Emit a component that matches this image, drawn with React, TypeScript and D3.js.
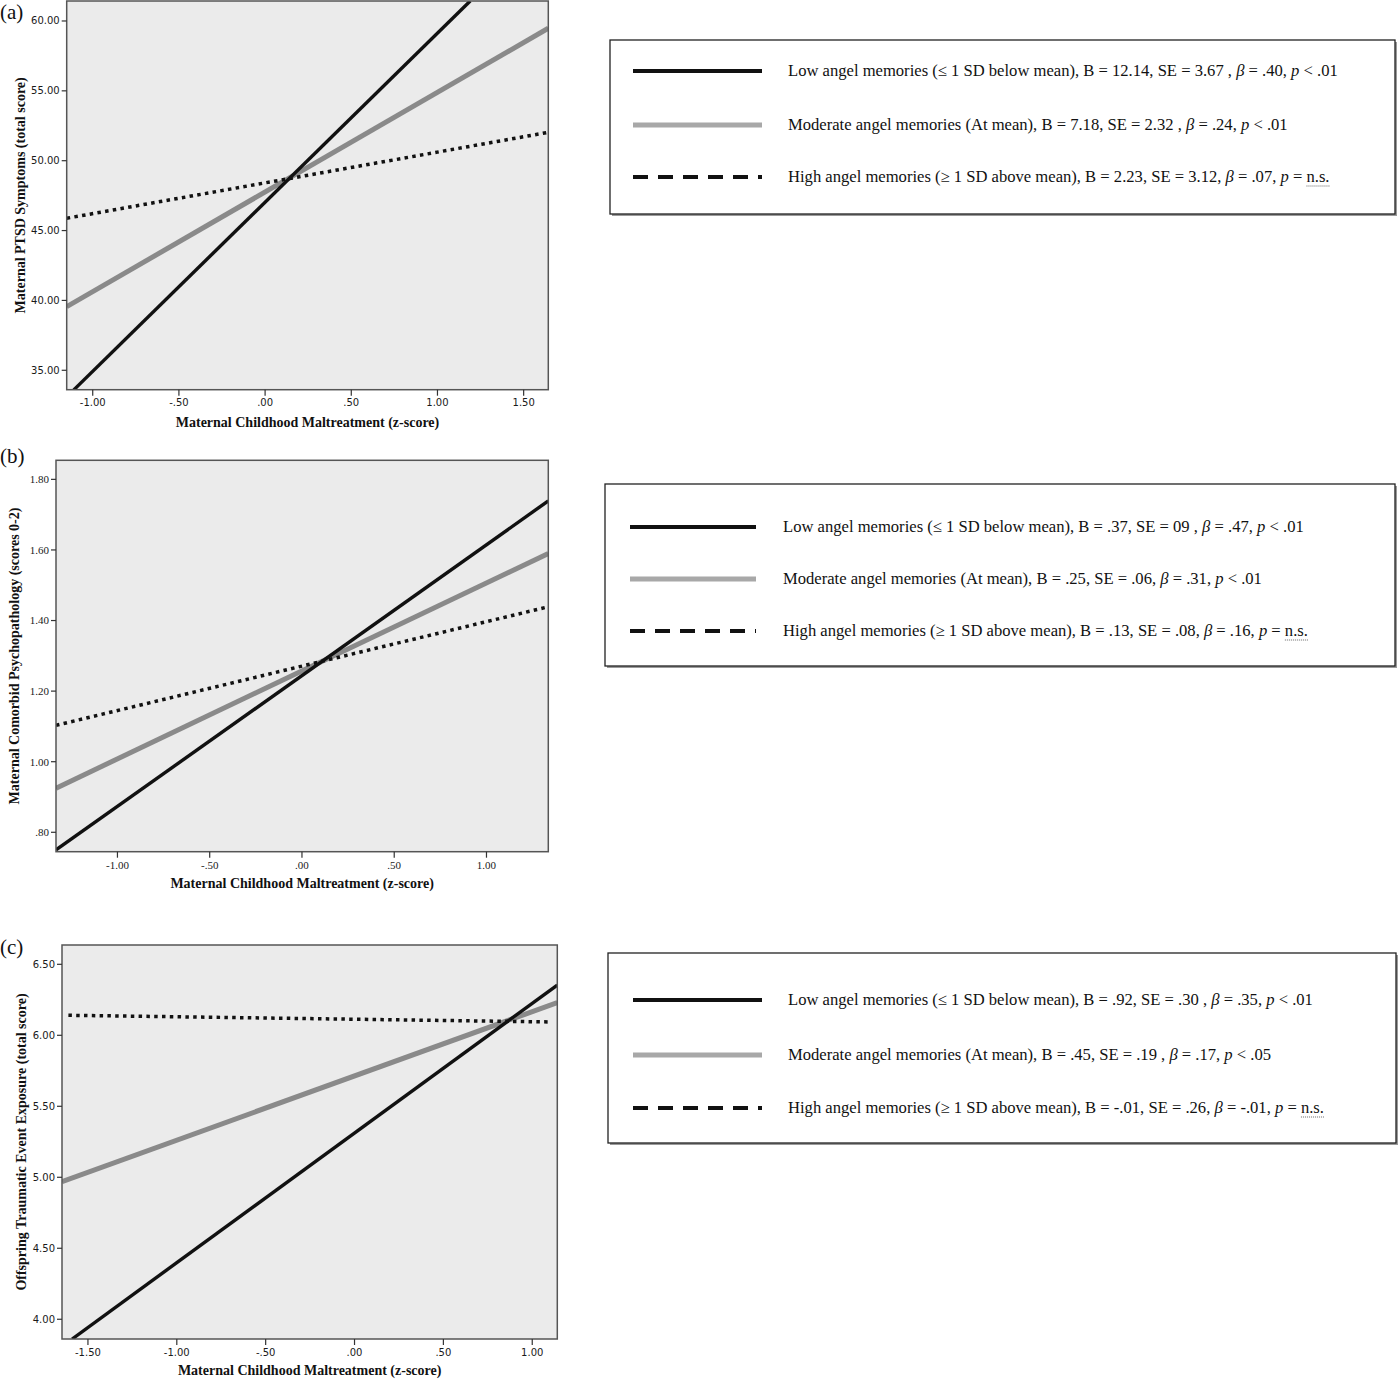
import React, { useLayoutEffect, useRef, useState } from "react";
import * as d3 from "d3";

// ---------- DATA ----------
const panelLabels = ["(a)", "(b)", "(c)"];
const yTitles = [
  "Maternal PTSD Symptoms (total score)",
  "Maternal Comorbid Psychopathology (scores 0-2)",
  "Offspring Traumatic Event Exposure (total score)",
];
const xTitle = "Maternal Childhood Maltreatment (z-score)";

const xDomains: [number, number][] = [[-1.151, 1.643], [-1.333, 1.335], [-1.646, 1.141]];
const yDomains: [number, number][] = [[33.61, 61.43], [0.745, 1.854], [3.861, 6.636]];

const xTicksA = [-1.0, -0.5, 0.0, 0.5, 1.0, 1.5];
const xTicksB = [-1.0, -0.5, 0.0, 0.5, 1.0];
const xTicksC = [-1.5, -1.0, -0.5, 0.0, 0.5, 1.0];
const yTicksA = [35, 40, 45, 50, 55, 60];
const yTicksB = [0.8, 1.0, 1.2, 1.4, 1.6, 1.8];
const yTicksC = [4.0, 4.5, 5.0, 5.5, 6.0, 6.5];

// simple-slope lines: [x, y] end points
const lowA: [number, number][] = [[-1.11, 33.6], [1.19, 61.43]];
const modA: [number, number][] = [[-1.151, 39.55], [1.643, 59.48]];
const highA: [number, number][] = [[-1.151, 45.88], [1.643, 52.03]];

const lowB: [number, number][] = [[-1.333, 0.75], [1.335, 1.739]];
const modB: [number, number][] = [[-1.333, 0.925], [1.335, 1.59]];
const highB: [number, number][] = [[-1.333, 1.103], [1.335, 1.439]];

const lowC: [number, number][] = [[-1.589, 3.861], [1.141, 6.354]];
const modC: [number, number][] = [[-1.646, 4.969], [1.141, 6.23]];
const highC: [number, number][] = [[-1.61, 6.141], [1.11, 6.094]];

// legend rows: prefix, beta value, p value
const legendA = [
  { pre: "Low angel memories (≤ 1 SD below mean), B = 12.14, SE = 3.67 , ", beta: ".40", p: "< .01" },
  { pre: "Moderate angel memories (At mean), B = 7.18, SE = 2.32 , ", beta: ".24", p: "< .01" },
  { pre: "High angel memories (≥ 1 SD above mean), B = 2.23, SE = 3.12, ", beta: ".07", p: "= n.s." },
];
const legendB = [
  { pre: "Low angel memories (≤ 1 SD below mean), B = .37, SE = 09 , ", beta: ".47", p: "< .01" },
  { pre: "Moderate angel memories (At mean), B = .25, SE = .06, ", beta: ".31", p: "< .01" },
  { pre: "High angel memories (≥ 1 SD above mean), B = .13, SE = .08, ", beta: ".16", p: "= n.s." },
];
const legendC = [
  { pre: "Low angel memories (≤ 1 SD below mean), B = .92, SE = .30 , ", beta: ".35", p: "< .01" },
  { pre: "Moderate angel memories (At mean), B = .45, SE = .19 , ", beta: ".17", p: "< .05" },
  { pre: "High angel memories (≥ 1 SD above mean), B = -.01, SE = .26, ", beta: "-.01", p: "= n.s." },
];

// ---------- LAYOUT ----------
const frames = [
  { x: 66.7, y: 1, w: 481.6, h: 388.7, yTitleX: 20, labelY: 19, tickFont: "DejaVu Sans", tickSize: 10, xTitleY: 427 },
  { x: 56, y: 460.3, w: 492.3, h: 391.4, yTitleX: 14.5, labelY: 463, tickFont: "Liberation Serif", tickSize: 11, xTitleY: 888 },
  { x: 62, y: 945, w: 495.3, h: 394, yTitleX: 21, labelY: 954, tickFont: "DejaVu Sans", tickSize: 10, xTitleY: 1375 },
];
const legendBoxes = [
  { x: 610, y: 40, w: 785, h: 174, sx0: 633, sx1: 762, tx: 788, rows: [71, 125, 177] },
  { x: 605, y: 484, w: 790, h: 182, sx0: 630, sx1: 756, tx: 783, rows: [527, 579, 631] },
  { x: 608, y: 953, w: 788, h: 190, sx0: 633, sx1: 762, tx: 788, rows: [1000, 1055, 1108] },
];

const fmt = (v: number) => {
  const s = d3.format(".2f")(v).replace("\u2212", "-");
  return s.replace(/^0\./, ".").replace(/^-0\./, "-.");
};

const serif = "'Liberation Serif', 'Times New Roman', serif";

function Panel({ i, xTicks, yTicks, low, mod, high }: any) {
  const f = frames[i];
  const x = d3.scaleLinear().domain(xDomains[i]).range([f.x, f.x + f.w]);
  const y = d3.scaleLinear().domain(yDomains[i]).range([f.y + f.h, f.y]);
  const line = d3.line<[number, number]>().x((d) => x(d[0])).y((d) => y(d[1]));
  const clipId = `clip${i}`;
  return (
    <g>
      <defs>
        <clipPath id={clipId}>
          <rect x={f.x} y={f.y} width={f.w} height={f.h} />
        </clipPath>
      </defs>
      <text x={0} y={f.labelY} fontFamily={serif} fontSize={21} fill="#111">{panelLabels[i]}</text>
      <rect x={f.x} y={f.y} width={f.w} height={f.h} fill="#ebebeb" />
      <g clipPath={`url(#${clipId})`}>
        <path d={line(mod) || ""} fill="none" stroke="#8a8a8a" strokeWidth={5} />
        <path d={line(high) || ""} fill="none" stroke="#111" strokeWidth={3.5} strokeDasharray="3.5 4.3" />
        <path d={line(low) || ""} fill="none" stroke="#111" strokeWidth={3.4} />
      </g>
      <rect x={f.x} y={f.y} width={f.w} height={f.h} fill="none" stroke="#555" strokeWidth={1.5} />
      {yTicks.map((t: number) => (
        <g key={"y" + t}>
          <line x1={f.x - 5} x2={f.x} y1={y(t)} y2={y(t)} stroke="#333" strokeWidth={1.2} />
          <text x={f.x - 7} y={y(t)} dy="0.35em" textAnchor="end" fontFamily={f.tickFont} fontSize={f.tickSize} fill="#1a1a1a">
            {fmt(t)}
          </text>
        </g>
      ))}
      {xTicks.map((t: number) => (
        <g key={"x" + t}>
          <line x1={x(t)} x2={x(t)} y1={f.y + f.h} y2={f.y + f.h + 6} stroke="#333" strokeWidth={1.2} />
          <text x={x(t)} y={f.y + f.h + 13} dy="0.35em" textAnchor="middle" fontFamily={f.tickFont} fontSize={f.tickSize} fill="#1a1a1a">
            {fmt(t)}
          </text>
        </g>
      ))}
      <text x={f.x + f.w / 2} y={f.xTitleY} textAnchor="middle" fontFamily={serif} fontWeight="bold" fontSize={14} fill="#111">
        {xTitle}
      </text>
      <text
        transform={`translate(${f.yTitleX},${f.y + f.h / 2}) rotate(-90)`}
        dy="0.35em"
        textAnchor="middle"
        fontFamily={serif}
        fontWeight="bold"
        fontSize={14}
        fill="#111"
      >
        {yTitles[i]}
      </text>
    </g>
  );
}

function Legend({ i, rows }: any) {
  const b = legendBoxes[i];
  const nsRef = useRef<SVGTSpanElement | null>(null);
  const [ul, setUl] = useState<{ x: number; w: number } | null>(null);
  useLayoutEffect(() => {
    if (nsRef.current) {
      const bb = (nsRef.current as any).getBBox();
      setUl({ x: bb.x, w: bb.width });
    }
  }, []);
  return (
    <g>
      <rect x={b.x + 2} y={b.y + 2} width={b.w} height={b.h} fill="#9a9a9a" />
      <rect x={b.x} y={b.y} width={b.w} height={b.h} fill="#fff" stroke="#222" strokeWidth={1.3} />
      <line x1={b.sx0} x2={b.sx1} y1={b.rows[0]} y2={b.rows[0]} stroke="#111" strokeWidth={4} />
      <line x1={b.sx0} x2={b.sx1} y1={b.rows[1]} y2={b.rows[1]} stroke="#a8a8a8" strokeWidth={5} />
      <line x1={b.sx0} x2={b.sx1} y1={b.rows[2]} y2={b.rows[2]} stroke="#111" strokeWidth={4} strokeDasharray="15 10" />
      {rows.map((r: any, k: number) => (
        <text key={k} x={b.tx} y={b.rows[k]} dy="0.33em" fontFamily={serif} fontSize={16.6} fill="#111">
          {r.pre}
          <tspan fontStyle="italic">β</tspan>
          {" = " + r.beta + ", "}
          <tspan fontStyle="italic">p</tspan>
          {" " + r.p.replace("n.s.", "")}
          {r.p.includes("n.s.") ? <tspan ref={nsRef}>n.s.</tspan> : null}
        </text>
      ))}
      {ul ? (
        <line
          x1={ul.x}
          x2={ul.x + ul.w}
          y1={b.rows[2] + 9}
          y2={b.rows[2] + 9}
          stroke="#999"
          strokeWidth={1.5}
          strokeDasharray="1 1"
        />
      ) : null}
    </g>
  );
}

export default function App() {
  return (
    <svg width={1400} height={1380} style={{ position: "absolute", left: 0, top: 0, background: "#fff" }}>
      <rect width={1400} height={1380} fill="#fff" />
      <Panel i={0} xTicks={xTicksA} yTicks={yTicksA} low={lowA} mod={modA} high={highA} />
      <Panel i={1} xTicks={xTicksB} yTicks={yTicksB} low={lowB} mod={modB} high={highB} />
      <Panel i={2} xTicks={xTicksC} yTicks={yTicksC} low={lowC} mod={modC} high={highC} />
      <Legend i={0} rows={legendA} />
      <Legend i={1} rows={legendB} />
      <Legend i={2} rows={legendC} />
    </svg>
  );
}
